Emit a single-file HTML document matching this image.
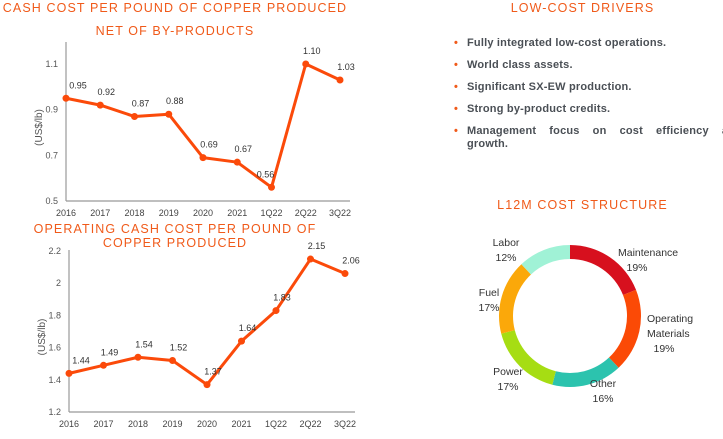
<!DOCTYPE html>
<html><head><meta charset="utf-8"><style>
body{margin:0;width:723px;height:439px;overflow:hidden;background:#fff;font-family:"Liberation Sans",sans-serif;position:relative}
.t{position:absolute;color:#f05a1a;font-size:12.5px;letter-spacing:1.1px;white-space:nowrap;text-align:center}
ul{position:absolute;left:452px;top:37px;width:290px;margin:0;padding:0;list-style:none;color:#4a4f55;font-size:11px;font-weight:bold;letter-spacing:0.2px}
li{position:relative;padding-left:15px;height:22px;line-height:13px}
li:before{content:"•";color:#f05a1a;position:absolute;left:2px;top:0}
li.j{text-align:justify;text-align-last:justify;height:auto}
</style></head><body>
<div class="t" style="left:0;width:350px;top:1px">CASH COST PER POUND OF COPPER PRODUCED</div>
<div class="t" style="left:0;width:350px;top:24px">NET OF BY-PRODUCTS</div>
<div class="t" style="left:0;width:350px;top:222px;line-height:14px">OPERATING CASH COST PER POUND OF<br>COPPER PRODUCED</div>
<div class="t" style="left:440px;width:285px;top:1px">LOW-COST DRIVERS</div>
<div class="t" style="left:440px;width:285px;top:198px">L12M COST STRUCTURE</div>
<ul>
<li>Fully integrated low-cost operations.</li>
<li>World class assets.</li>
<li>Significant SX-EW production.</li>
<li>Strong by-product credits.</li>
<li class="j">Management focus on cost efficiency and<br><span style="display:inline-block;text-align-last:left">growth.</span></li>
</ul>
<svg id="s" width="723" height="439" style="position:absolute;left:0;top:0"></svg>
<script>
const cats=["2016","2017","2018","2019","2020","2021","1Q22","2Q22","3Q22"];
const vals1=[0.95,0.92,0.87,0.88,0.69,0.67,0.56,1.10,1.03];
const ticks1=[0.5,0.7,0.9,1.1];
const vals2=[1.44,1.49,1.54,1.52,1.37,1.64,1.83,2.15,2.06];
const ticks2=[1.2,1.4,1.6,1.8,2,2.2];
const pieLabels=["Maintenance","Operating Materials","Other","Power","Fuel","Labor"];
const pieVals=[19,19,16,17,17,12];
const pieColors=["#d7101e","#fb4a06","#2cc3ae","#a6dd13","#fba80a","#a0f2d6"];
const s=document.getElementById('s');const NS="http://www.w3.org/2000/svg";
function mk(t,a,txt){const e=document.createElementNS(NS,t);for(const k in a)e.setAttribute(k,a[k]);if(txt!=null)e.textContent=txt;s.appendChild(e);return e;}
function chart(vals,ticks,x0,x1,yTop,yBot,vmin,vmax,axTop,xlY,nm,leftIdx){
  const X=i=>x0+i*(x1-x0)/(cats.length-1);
  const Y=v=>yBot-(v-vmin)/(vmax-vmin)*(yBot-yTop);
  let e=mk('line',{x1:x0,y1:axTop,x2:x0,y2:Y(vmin),stroke:'#999','stroke-width':1.2});
  
  e=mk('line',{x1:x0,y1:Y(vmin),x2:x1+10,y2:Y(vmin),stroke:'#999','stroke-width':1.2});
  
  ticks.forEach(t=>{e=mk('text',{x:x0-8,y:Y(t)+3,'text-anchor':'end','font-size':9,fill:'#555'},String(t));
    });
  cats.forEach((c,i)=>{e=mk('text',{x:X(i),y:xlY,'text-anchor':'middle','font-size':9,fill:'#444'},c);
    });
  e=mk('text',{x:0,y:0,transform:`translate(${x0-24},${(axTop+Y(vmin))/2+6}) rotate(-90)`,'text-anchor':'middle','font-size':10,fill:'#555'},'(US$/lb)');
  
  e=mk('polyline',{points:vals.map((v,i)=>X(i)+','+Y(v)).join(' '),fill:'none',stroke:'#fb4a0a','stroke-width':3,'stroke-linejoin':'round'});
  
  vals.forEach((v,i)=>{e=mk('circle',{cx:X(i),cy:Y(v),r:3.5,fill:'#fb4a0a'});
    
    const dx=i==0?12:(i==leftIdx?-6:6);
    e=mk('text',{x:X(i)+dx,y:Y(v)-10,'text-anchor':'middle','font-size':9,fill:'#333'},v.toFixed(2));
    });
}
chart(vals1,ticks1,66,340,64,201,0.5,1.1,42,216,'chart1',6);
chart(vals2,ticks2,69,345,251,412,1.2,2.2,250,427,'chart2',-1);
const cx=570,cy=316,R=71,r=57;const tot=pieVals.reduce((a,b)=>a+b,0);let a0=-Math.PI/2;
const lp=[[618,256,'start'],[647,322,'start'],[603,387,'middle'],[508,375,'middle'],[489,296,'middle'],[506,246,'middle']];
pieVals.forEach((v,i)=>{const a1=a0+v/tot*2*Math.PI;const P=(rr,a)=>[cx+rr*Math.cos(a),cy+rr*Math.sin(a)];
  const [ax,ay]=P(R,a0),[bx,by]=P(R,a1),[cx2,cy2]=P(r,a1),[dx,dy]=P(r,a0);const lg=a1-a0>Math.PI?1:0;
  let e=mk('path',{d:`M${ax},${ay}A${R},${R} 0 ${lg} 1 ${bx},${by}L${cx2},${cy2}A${r},${r} 0 ${lg} 0 ${dx},${dy}Z`,fill:pieColors[i]});
  
  a0=a1;});
pieLabels.forEach((l,i)=>{const [x,y,an]=lp[i];const parts=l=="Operating Materials"?["Operating","Materials"]:[l];
  parts.forEach((t,k)=>{let e=mk('text',{x:x,y:y+k*15,'text-anchor':an,'font-size':10.5,fill:'#333'},t);
    });
  const px=i==0?637:(i==1?664:x);
  let e=mk('text',{x:px,y:y+parts.length*15,'text-anchor':'middle','font-size':10.5,fill:'#333'},pieVals[i]+'%');
  });
</script>
</body></html>
